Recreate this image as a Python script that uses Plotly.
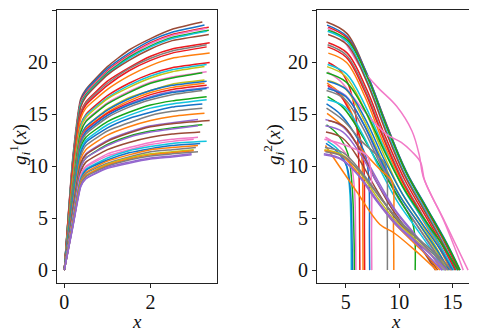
import plotly.graph_objects as go

# ---------------- data ----------------
# left panel: g_i^1(x), common x grid then each curve's own end x
g1_x_grid = [0, 0.2, 0.38, 0.5, 1.0, 1.5, 2.0, 2.5]
g1_end_x = [3.2, 3.25, 3.35, 3.3, 3.35, 3.3, 3.35, 3.37, 3.3, 3.3, 3.37, 3.37, 3.3, 3.25, 3.3,
            3.2, 3.25, 3.3, 3.25, 3.3, 3.35, 3.3, 3.2, 3.3, 3.3, 3.2, 3.2, 3.25, 3.1, 3.37,
            3.2, 3.1, 3.15, 3.1, 3.0, 3.3, 3.15, 3.1, 3.05, 3.0, 3.0, 3.1, 2.95, 2.95]
g1_y = [
    [0, 11.0, 16.5, 17.4, 19.6, 21.2, 22.3, 23.2, 23.9],
    [0, 10.8, 16.3, 17.3, 19.4, 20.9, 22.1, 22.9, 23.6],
    [0, 10.7, 16.2, 17.1, 19.2, 20.7, 21.9, 22.7, 23.4],
    [0, 10.6, 16.1, 17.0, 19.1, 20.6, 21.8, 22.6, 23.3],
    [0, 10.5, 16.0, 16.9, 19.0, 20.5, 21.6, 22.4, 23.1],
    [0, 10.4, 15.9, 16.8, 18.9, 20.4, 21.5, 22.3, 23.0],
    [0, 10.2, 15.7, 16.7, 18.8, 20.2, 21.3, 22.1, 22.7],
    [0, 9.8, 15.2, 16.2, 18.2, 19.5, 20.6, 21.3, 21.9],
    [0, 9.7, 15.1, 16.1, 18.0, 19.4, 20.4, 21.1, 21.7],
    [0, 9.6, 14.9, 15.9, 17.8, 19.2, 20.2, 20.9, 21.5],
    [0, 9.2, 14.6, 15.6, 17.4, 18.7, 19.7, 20.4, 20.9],
    [0, 8.7, 14.0, 15.0, 16.8, 18.0, 18.9, 19.5, 20.0],
    [0, 8.6, 13.9, 14.9, 16.6, 17.8, 18.7, 19.3, 19.8],
    [0, 8.5, 13.7, 14.7, 16.5, 17.6, 18.5, 19.1, 19.6],
    [0, 8.2, 13.4, 14.4, 16.1, 17.2, 18.1, 18.6, 19.1],
    [0, 8.2, 13.3, 14.3, 16.0, 17.1, 18.0, 18.5, 19.0],
    [0, 7.8, 12.9, 13.8, 15.5, 16.6, 17.3, 17.9, 18.3],
    [0, 7.7, 12.8, 13.8, 15.4, 16.5, 17.3, 17.8, 18.2],
    [0, 7.6, 12.7, 13.6, 15.2, 16.3, 17.1, 17.6, 18.0],
    [0, 7.5, 12.5, 13.5, 15.1, 16.1, 16.9, 17.4, 17.8],
    [0, 7.4, 12.4, 13.4, 14.9, 16.0, 16.7, 17.2, 17.6],
    [0, 7.4, 12.3, 13.3, 14.9, 15.9, 16.6, 17.1, 17.5],
    [0, 7.3, 12.2, 13.1, 14.7, 15.7, 16.4, 16.9, 17.3],
    [0, 6.9, 11.8, 12.8, 14.3, 15.2, 15.9, 16.3, 16.7],
    [0, 6.8, 11.6, 12.5, 14.0, 14.9, 15.6, 16.0, 16.4],
    [0, 6.6, 11.3, 12.3, 13.7, 14.6, 15.2, 15.7, 16.0],
    [0, 6.4, 11.0, 12.0, 13.4, 14.2, 14.9, 15.3, 15.6],
    [0, 6.1, 10.7, 11.6, 13.0, 13.8, 14.4, 14.8, 15.1],
    [0, 5.8, 10.3, 11.2, 12.5, 13.3, 13.9, 14.2, 14.5],
    [0, 5.8, 10.3, 11.1, 12.4, 13.2, 13.8, 14.1, 14.4],
    [0, 5.6, 10.0, 10.8, 12.1, 12.9, 13.4, 13.7, 14.0],
    [0, 5.5, 9.9, 10.8, 12.0, 12.8, 13.3, 13.6, 13.9],
    [0, 5.2, 9.5, 10.4, 11.6, 12.3, 12.8, 13.1, 13.3],
    [0, 5.0, 9.2, 10.0, 11.2, 11.8, 12.3, 12.6, 12.8],
    [0, 4.9, 9.0, 9.9, 11.0, 11.6, 12.1, 12.4, 12.6],
    [0, 4.8, 8.9, 9.7, 10.8, 11.5, 11.9, 12.2, 12.4],
    [0, 4.7, 8.7, 9.6, 10.6, 11.3, 11.7, 12.0, 12.2],
    [0, 4.6, 8.6, 9.4, 10.5, 11.1, 11.6, 11.8, 12.0],
    [0, 4.5, 8.5, 9.3, 10.3, 10.9, 11.4, 11.6, 11.8],
    [0, 4.4, 8.3, 9.1, 10.2, 10.8, 11.2, 11.4, 11.6],
    [0, 4.4, 8.3, 9.1, 10.1, 10.7, 11.1, 11.3, 11.5],
    [0, 4.3, 8.2, 9.0, 10.0, 10.6, 11.0, 11.2, 11.4],
    [0, 4.3, 8.1, 8.8, 9.9, 10.4, 10.8, 11.0, 11.2],
    [0, 4.2, 8.0, 8.8, 9.8, 10.3, 10.7, 10.9, 11.1],
]

# right panel: g_i^2(x), each curve's own x and y points
g2_x = [
    [3.2, 5.1, 6.9, 8.8, 10.6, 12.5, 14.4, 15.6],
    [3.25, 5.12, 6.99, 8.85, 10.72, 12.59, 14.46, 15.7],
    [3.35, 5.17, 6.99, 8.82, 10.64, 12.46, 14.29, 15.5],
    [3.3, 4.5, 5.5, 6.4, 8.0, 9.75, 11.2, 11.9, 12.25, 14.3, 16.45],
    [3.35, 5.2, 7.06, 8.91, 10.76, 12.61, 14.47, 15.7],
    [3.3, 5.12, 6.93, 8.75, 10.56, 12.38, 14.19, 15.4],
    [3.35, 5.14, 6.94, 8.73, 10.52, 12.31, 14.11, 15.3],
    [3.37, 5.14, 6.92, 8.69, 10.47, 12.24, 14.02, 15.2],
    [3.3, 5.06, 6.81, 8.57, 10.32, 12.08, 13.83, 15.0],
    [3.3, 5.04, 6.78, 8.52, 10.26, 12.0, 13.74, 14.9],
    [3.37, 5.08, 6.8, 8.51, 10.23, 11.94, 13.66, 14.8],
    [3.37, 4.4, 5.2, 5.9, 6.2, 6.3, 6.32],
    [3.3, 5.07, 6.84, 8.61, 10.38, 12.15, 13.92, 15.1],
    [3.25, 4.95, 6.66, 8.36, 10.06, 11.76, 13.47, 14.6],
    [3.3, 4.5, 5.6, 7.0, 8.8, 10.2, 11.2, 12.0, 12.4, 14.2, 16.0],
    [3.2, 5.05, 6.89, 8.74, 10.58, 12.43, 14.27, 15.5],
    [3.25, 4.94, 6.63, 8.31, 10.0, 11.69, 13.38, 14.5],
    [3.3, 5.06, 6.81, 8.57, 10.32, 12.08, 13.83, 15.0],
    [3.25, 4.5, 5.6, 6.3, 6.55, 6.6, 6.62],
    [3.3, 4.5, 5.6, 6.4, 6.7, 6.75, 6.77],
    [3.35, 4.99, 6.64, 8.28, 9.92, 11.56, 13.21, 14.3],
    [3.3, 5.01, 6.72, 8.43, 10.14, 11.85, 13.56, 14.7],
    [3.2, 4.88, 6.56, 8.24, 9.92, 11.6, 13.28, 14.4],
    [3.3, 4.8, 6.5, 8.3, 10.0, 11.2, 11.45, 11.5],
    [3.3, 4.94, 6.57, 8.21, 9.84, 11.48, 13.11, 14.2],
    [3.2, 4.5, 5.8, 6.8, 7.15, 7.22, 7.24],
    [3.2, 4.8, 6.5, 8.0, 8.7, 8.88, 8.9],
    [3.25, 4.8, 6.5, 8.3, 9.3, 9.47, 9.5],
    [3.1, 4.74, 6.37, 8.01, 9.64, 11.28, 12.91, 14.0],
    [3.37, 4.87, 6.38, 7.88, 9.39, 10.89, 12.4, 13.4],
    [3.2, 4.3, 5.2, 5.6, 5.78, 5.8],
    [3.1, 4.75, 6.4, 8.05, 9.7, 11.35, 13.0, 14.1],
    [3.15, 4.72, 6.29, 7.85, 9.42, 10.99, 12.56, 13.6],
    [3.1, 4.4, 5.4, 5.8, 5.93, 5.95],
    [3.0, 4.5, 6.0, 7.0, 7.35, 7.42, 7.44],
    [3.3, 4.3, 5.0, 5.35, 5.5, 5.52],
    [3.15, 4.3, 5.1, 5.45, 5.6, 5.62],
    [3.1, 4.4, 6.0, 8.2, 9.5, 11.5, 13.5],
    [3.05, 4.78, 6.52, 8.25, 9.98, 11.71, 13.45, 14.6],
    [3.0, 4.7, 6.39, 8.09, 9.78, 11.48, 13.17, 14.3],
    [3.0, 4.62, 6.24, 7.86, 9.48, 11.1, 12.72, 13.8],
    [3.1, 4.87, 6.64, 8.41, 10.18, 11.95, 13.72, 14.9],
    [2.95, 4.61, 6.27, 7.92, 9.58, 11.24, 12.9, 14.0],
    [2.95, 4.67, 6.39, 8.1, 9.82, 11.54, 13.26, 14.4],
]
g2_y = [
    [23.9, 22.8, 19.1, 14.1, 9.6, 6.1, 2.6, 0],
    [23.6, 22.5, 18.9, 13.9, 9.4, 6.0, 2.6, 0],
    [23.4, 22.3, 18.7, 13.8, 9.4, 6.0, 2.6, 0],
    [23.3, 22.5, 21.0, 19.5, 17.6, 15.8, 13.4, 11.0, 9.0, 4.6, 0],
    [23.1, 22.1, 18.5, 13.6, 9.2, 5.9, 2.5, 0],
    [23.0, 22.0, 18.4, 13.6, 9.2, 5.9, 2.5, 0],
    [22.7, 21.7, 18.2, 13.4, 9.1, 5.8, 2.5, 0],
    [21.9, 20.9, 17.5, 12.9, 8.8, 5.6, 2.4, 0],
    [21.7, 20.7, 17.4, 12.8, 8.7, 5.5, 2.4, 0],
    [21.5, 20.5, 17.2, 12.7, 8.6, 5.5, 2.4, 0],
    [20.9, 20.0, 16.7, 12.3, 8.4, 5.3, 2.3, 0],
    [20.0, 19.3, 18.0, 15.2, 11.0, 4.0, 0],
    [19.8, 18.9, 15.8, 11.7, 7.9, 5.0, 2.2, 0],
    [19.6, 18.7, 15.7, 11.6, 7.8, 5.0, 2.2, 0],
    [19.1, 18.2, 16.8, 15.0, 13.1, 12.3, 11.4, 10.4, 8.6, 4.7, 0],
    [19.0, 18.1, 15.2, 11.2, 7.6, 4.8, 2.1, 0],
    [18.3, 17.5, 14.6, 10.8, 7.3, 4.7, 2.0, 0],
    [18.2, 17.4, 14.6, 10.7, 7.3, 4.6, 2.0, 0],
    [18.0, 17.0, 15.0, 12.8, 10.0, 4.0, 0],
    [17.8, 16.8, 14.8, 12.5, 10.0, 4.0, 0],
    [17.6, 16.8, 14.1, 10.4, 7.0, 4.5, 1.9, 0],
    [17.5, 16.7, 14.0, 10.3, 7.0, 4.5, 1.9, 0],
    [17.3, 16.5, 13.8, 10.2, 6.9, 4.4, 1.9, 0],
    [16.7, 15.6, 13.0, 9.8, 6.9, 4.7, 3.5, 0],
    [16.4, 15.7, 13.1, 9.7, 6.6, 4.2, 1.8, 0],
    [16.0, 15.0, 13.2, 11.2, 9.0, 3.0, 0],
    [15.6, 14.4, 12.4, 11.0, 10.2, 5.0, 0],
    [15.1, 13.8, 11.6, 9.6, 8.6, 4.0, 0],
    [14.5, 13.8, 11.6, 8.6, 5.8, 3.7, 1.6, 0],
    [14.4, 13.8, 11.5, 8.5, 5.8, 3.7, 1.6, 0],
    [14.0, 13.0, 11.2, 8.0, 3.0, 0],
    [13.9, 13.3, 11.1, 8.2, 5.6, 3.5, 1.5, 0],
    [13.3, 12.7, 10.6, 7.8, 5.3, 3.4, 1.5, 0],
    [12.8, 11.9, 10.5, 8.0, 3.0, 0],
    [12.6, 12.2, 11.6, 11.0, 9.5, 3.0, 0],
    [12.4, 11.6, 10.3, 8.0, 3.0, 0],
    [12.2, 11.3, 10.0, 7.5, 2.5, 0],
    [12.0, 10.0, 7.6, 4.4, 3.6, 1.9, 0],
    [11.8, 11.3, 9.4, 7.0, 4.7, 3.0, 1.3, 0],
    [11.6, 11.1, 9.3, 6.8, 4.6, 3.0, 1.3, 0],
    [11.5, 11.0, 9.2, 6.8, 4.6, 2.9, 1.3, 0],
    [11.4, 10.9, 9.1, 6.7, 4.6, 2.9, 1.3, 0],
    [11.2, 10.7, 9.0, 6.6, 4.5, 2.9, 1.2, 0],
    [11.1, 10.6, 8.9, 6.5, 4.4, 2.8, 1.2, 0],
]

x_ticks_left = [0, 2]
x_ticks_right = [5, 10, 15]
y_ticks = [0, 5, 10, 15, 20, 25]

# ---------------- styles ----------------
palette = {
    "blue": "#1473c8", "orange": "#ff7f0e", "green": "#16a61a", "red": "#ec1a1f",
    "purple": "#9467cf", "brown": "#9a4a36", "pink": "#f27ac8", "gray": "#7f7f7f",
    "olive": "#c2c21a", "cyan": "#12c4de",
}
curve_colors = ["brown", "blue", "red", "pink", "green", "cyan", "brown", "red", "gray", "red",
                "orange", "red", "cyan", "olive", "pink", "green", "olive", "blue", "orange", "red",
                "purple", "blue", "gray", "green", "cyan", "blue", "gray", "orange", "purple", "brown",
                "green", "purple", "brown", "pink", "pink", "cyan", "blue", "orange", "gray", "olive",
                "orange", "gray", "purple", "purple"]

FONT = "Liberation Serif, Times New Roman, serif"
W, H = 477, 332
OFF = 8  # the page body has an 8px margin; compensate so marks land where the reference has them

fig = go.Figure()
n = len(g1_y)
for i in range(n):
    col = palette[curve_colors[i]]
    fig.add_trace(go.Scatter(
        x=g1_x_grid + [g1_end_x[i]], y=g1_y[i], mode="lines",
        line=dict(color=col, width=1.5, shape="spline", smoothing=0.5),
        xaxis="x", yaxis="y", showlegend=False, hoverinfo="skip"))
for i in range(n):
    col = palette[curve_colors[i]]
    fig.add_trace(go.Scatter(
        x=g2_x[i], y=g2_y[i], mode="lines",
        line=dict(color=col, width=1.5, shape="spline", smoothing=1.0),
        xaxis="x2", yaxis="y2", showlegend=False, hoverinfo="skip"))

def px_x(p):
    return min(1.0, max(0.0, (p - OFF) / W))

def px_y(p):
    return min(1.0, max(0.0, 1 - (p - OFF) / H))

axis_common = dict(
    showline=True, mirror=True, linecolor="#222222", linewidth=1.2,
    ticks="outside", ticklen=4, tickwidth=1, tickcolor="#222222",
    showgrid=False, zeroline=False,
    tickfont=dict(family=FONT, size=20, color="#111111"),
)

TOP = 9.5
fig.update_layout(
    width=W, height=H,
    margin=dict(l=0, r=0, t=0, b=0),
    paper_bgcolor="white", plot_bgcolor="white",
    xaxis=dict(domain=[px_x(57), px_x(217)], range=[-0.17, 3.54],
               tickvals=x_ticks_left, anchor="y", ticklabelstandoff=-3, **axis_common),
    yaxis=dict(domain=[px_y(283), px_y(TOP)], range=[-1.24, 25.1],
               tickvals=y_ticks, anchor="x", **axis_common),
    xaxis2=dict(domain=[px_x(317), px_x(475)], range=[2.31, 17.1],
                tickvals=x_ticks_right, anchor="y2", ticklabelstandoff=-3, **axis_common),
    yaxis2=dict(domain=[px_y(283), px_y(TOP)], range=[-1.24, 25.1],
                tickvals=y_ticks, anchor="x2", **axis_common),
)

title_font = dict(family=FONT, size=19, color="#111111")
common_ann = dict(xref="paper", yref="paper", showarrow=False, font=title_font,
                  xanchor="center", yanchor="middle")
fig.add_annotation(x=px_x(137), y=px_y(321), text="<i>x</i>", **common_ann)
fig.add_annotation(x=px_x(396), y=px_y(321), text="<i>x</i>", **common_ann)
fig.add_annotation(x=px_x(19), y=px_y(145),
                   text="<i>g</i><sub><i>i</i></sub><sup>1</sup>(<i>x</i>)", textangle=-90,
                   **common_ann)
fig.add_annotation(x=px_x(273), y=px_y(145),
                   text="<i>g</i><sub><i>i</i></sub><sup>2</sup>(<i>x</i>)", textangle=-90,
                   **common_ann)

fig.write_html("out.html")
